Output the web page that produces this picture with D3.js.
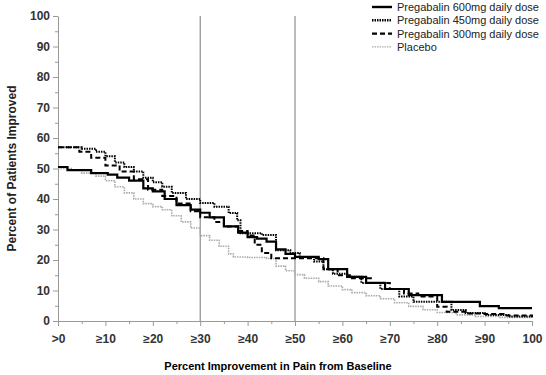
<!DOCTYPE html>
<html lang="en">
  <head>
    <meta charset="utf-8">
    <title>Pregabalin responder curves</title>
    <style>
      body { margin: 0; background: white; }
      svg { display: block; font-family: "Liberation Sans", Arial, sans-serif; }
      .tick text { font-weight: bold; fill: #333; font-size: 12px; }
      .legend text { font-size: 11px; fill: #222; }
    </style>
    <script src="https://d3js.org/d3.v7.min.js"></script>
  </head>
  <body>
    <div class="viz"></div>
    <script>
    // x: percent improvement, y: percent of patients improved
    const dose600 = [[0,50.5],[2,49.5],[7,48.5],[10.5,48],[12.5,47],[15,46],[18,43.5],[20,42.5],[22.5,40],[25,38],
      [28,36.5],[30,35.5],[32,34],[35,31],[38,29],[40,27.5],[42,27],[44,26],[46,23.5],[48,22],[50,21],[55,20.3],
      [57,17],[61,14.5],[65,12.5],[69,10.5],[74,8.5],[81,6.3],[89,4.9],[93,4.2],[100,4.2]]
    const dose450 = [[0,57],[2,57],[5,56.5],[8,55.5],[10,54],[12,52],[14,50.5],[16,49],[18,47],[20,45.5],[22,44],
      [24,42],[27,40],[30,38.7],[33,37.5],[36,35.4],[37.8,33],[38.5,28.8],[43,28.2],[46,23.2],[49,22.3],[51,21],
      [54,19.5],[56,17],[58,15.5],[61,14.5],[64,12.5],[68,10.5],[72,8],[75,6.3],[82,6.3],[83,3.6],[86,2.6],
      [90,2],[95,1.5],[100,1.2]]
    const dose300 = [[0,57],[3,57],[4.5,55.5],[7,53.5],[10,51],[13,49],[16,46.5],[19,43],[22,41],[25,38.5],
      [28,36],[30,34],[33,32.5],[35,31],[38,29.5],[40,28],[41.5,25],[43,22.3],[45,20.6],[55,20.6],[56,17],
      [59,15],[62,14],[66,12.5],[70,10.5],[73,9],[76,8],[80,4.7],[82,3],[86,2.5],[90,2.3],[94,1.8],[100,1.5]]
    const placebo = [[0,50],[3,49.5],[5,48.5],[8,47.5],[10,46],[12,44],[14,42],[16,40],[18,38.5],[20,37.5],
      [22,36.5],[24,34.5],[26,32.5],[28,30.5],[30,28],[32,26.5],[34,24.5],[36,22],[37,21],[40,20.8],[44,20.5],
      [46,18],[48,16.5],[50,15.2],[52,14],[55,12.9],[57,11.5],[60,10.3],[62,9.3],[65,8.3],[68,7.3],[71,6],
      [74,4.8],[77,3.7],[80,2.8],[84,2],[88,1.5],[93,1.2],[100,1]]

    const xTickLabels = [">0","≥10","≥20","≥30","≥40","≥50","≥60","≥70","≥80","≥90","100"]
    const refLines = [30, 50]

    const series = [
      {name:"Pregabalin 600mg daily dose", data:dose600, color:"#000", width:2.2, dash:null},
      {name:"Pregabalin 450mg daily dose", data:dose450, color:"#000", width:2, dash:"1.5,1"},
      {name:"Pregabalin 300mg daily dose", data:dose300, color:"#000", width:2, dash:"5,3"},
      {name:"Placebo", data:placebo, color:"#aaa", width:1.6, dash:"1.5,1"}
    ]

    const width = 546, height = 375
    const margin = {top: 16, right: 14, bottom: 54, left: 58}

    const svg = d3.select(".viz").append("svg")
      .attr("width", width)
      .attr("height", height)

    const x = d3.scaleLinear().domain([0,100]).range([margin.left, width - margin.right])
    const y = d3.scaleLinear().domain([0,100]).range([height - margin.bottom, margin.top])

    // reference lines
    svg.selectAll(".ref")
      .data(refLines)
      .join("line")
      .attr("x1", d => x(d)).attr("x2", d => x(d))
      .attr("y1", y(100)).attr("y2", y(0))
      .attr("stroke", "#777")
      .attr("stroke-width", 1)

    // minor ticks
    const minor = d3.range(5, 100, 10)
    svg.append("g")
      .attr("transform", `translate(${margin.left},0)`)
      .call(d3.axisLeft(y).tickValues(minor).tickSize(3).tickFormat(""))
      .call(g => g.select(".domain").remove())
      .selectAll("line").attr("stroke", "#999")
    svg.append("g")
      .attr("transform", `translate(0,${y(0)})`)
      .call(d3.axisBottom(x).tickValues(minor).tickSize(3).tickFormat(""))
      .call(g => g.select(".domain").remove())
      .selectAll("line").attr("stroke", "#999")

    // y axis
    svg.append("g")
      .attr("transform", `translate(${margin.left},0)`)
      .call(d3.axisLeft(y).tickValues(d3.range(0,101,10)).tickSize(5).tickSizeOuter(0).tickPadding(3))
      .call(g => g.select(".domain").attr("stroke", "#999"))
      .call(g => g.selectAll(".tick line").attr("stroke", "#999"))

    // x axis
    svg.append("g")
      .attr("transform", `translate(0,${y(0)})`)
      .call(d3.axisBottom(x).tickValues(d3.range(0,101,10)).tickSize(5).tickSizeOuter(0).tickPadding(8)
        .tickFormat((d,i) => xTickLabels[i]))
      .call(g => g.select(".domain").attr("stroke", "#999"))
      .call(g => g.selectAll(".tick line").attr("stroke", "#999"))

    // curves
    const line = d3.line()
      .x(d => x(d[0]))
      .y(d => y(d[1]))
      .curve(d3.curveStepAfter)

    svg.selectAll(".curve")
      .data(series.slice().reverse())
      .join("path")
      .attr("fill", "none")
      .attr("stroke", d => d.color)
      .attr("stroke-width", d => d.width)
      .attr("stroke-dasharray", d => d.dash)
      .attr("d", d => line(d.data))

    // legend
    const legend = svg.append("g").attr("class","legend")
      .selectAll("g")
      .data(series)
      .join("g")
      .attr("transform", (d,i) => `translate(372,${7 + i*13.3})`)
    legend.append("line")
      .attr("x1", 0).attr("x2", 20)
      .attr("stroke", d => d.color)
      .attr("stroke-width", d => d.name=="Placebo" ? 1.3 : 2.4)
      .attr("stroke-dasharray", d => d.dash)
    legend.append("text")
      .attr("x", 25).attr("y", 4)
      .text(d => d.name)

    // axis titles
    svg.append("text")
      .attr("x", 278).attr("y", 370)
      .attr("text-anchor", "middle")
      .style("font-size", "11px")
      .style("font-weight", "bold")
      .text("Percent Improvement in Pain from Baseline")

    svg.append("text")
      .attr("transform", `translate(16,${y(50)}) rotate(-90)`)
      .attr("text-anchor", "middle")
      .style("font-size", "12px")
      .style("font-weight", "bold")
      .style("fill", "#222")
      .text("Percent of Patients Improved")
    </script>
  </body>
</html>
